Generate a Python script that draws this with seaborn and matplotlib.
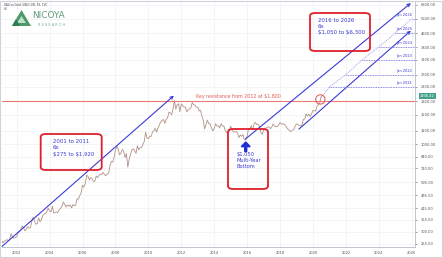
import numpy as np
import pandas as pd
import matplotlib
matplotlib.use("Agg")
import matplotlib.pyplot as plt
from matplotlib.patches import FancyBboxPatch, Rectangle, Polygon
import seaborn as sns

# ---------------- data ----------------
start_month = 2001 + 1 / 12  # Feb 2001
gold_close = [
    267, 258, 264, 267, 270, 266, 273, 293, 279, 275, 277,
    282, 296, 301, 308, 326, 318, 305, 312, 323, 316, 318, 347,
    368, 347, 334, 336, 364, 346, 354, 375, 385, 386, 398, 416,
    399, 396, 427, 388, 393, 395, 391, 408, 415, 428, 453, 438,
    422, 435, 428, 435, 417, 437, 430, 433, 473, 470, 495, 513,
    569, 556, 582, 654, 643, 613, 632, 623, 599, 604, 646, 632,
    650, 665, 662, 679, 659, 650, 666, 672, 743, 789, 783, 834,
    923, 972, 933, 865, 887, 928, 914, 833, 880, 730, 815, 870,
    928, 940, 916, 883, 980, 927, 953, 953, 996, 1040, 1180, 1090,
    1080, 1118, 1113, 1180, 1207, 1244, 1180, 1248, 1307, 1357, 1386, 1405,
    1333, 1410, 1439, 1556, 1536, 1500, 1628, 1825, 1620, 1722, 1746, 1565,
    1740, 1697, 1668, 1664, 1560, 1604, 1622, 1648, 1772, 1719, 1711, 1664,
    1663, 1578, 1598, 1472, 1393, 1234, 1312, 1395, 1326, 1323, 1250, 1202,
    1240, 1326, 1284, 1288, 1250, 1327, 1282, 1287, 1210, 1171, 1182, 1199,
    1283, 1213, 1183, 1184, 1190, 1172, 1095, 1134, 1115, 1142, 1065, 1061,
    1118, 1238, 1233, 1293, 1215, 1322, 1351, 1309, 1315, 1277, 1173, 1146,
    1211, 1249, 1249, 1268, 1268, 1242, 1269, 1322, 1280, 1271, 1275, 1303,
    1345, 1318, 1325, 1315, 1299, 1253, 1224, 1201, 1192, 1215, 1221, 1282,
    1321, 1313, 1292, 1284, 1305, 1409, 1413, 1520, 1472, 1513, 1464, 1517,
    1589, 1585, 1577, 1687, 1730, 1768, 1936,
]
last_price = 1936.42
resistance = 1800

trend_2001_x = [2001.11, 2011.55]
trend_2001_y = [246, 1950]
trend_2016_x = [2015.9, 2025.95]
trend_2016_y = [1075, 6950]
channel_low_x = [2019.15, 2025.95]
channel_low_y = [1231, 4755]
proj_years = [2020.5, 2021.0, 2022.0, 2023.0, 2024.0, 2025.0, 2026.0]
proj_levels = [1900, 2200, 2600, 3200, 3800, 4600, 5600]
proj_labels = ["Jan 2021", "Jan 2022", "Jan 2023", "Jan 2024", "Jan 2025", "Jan 2026"]

y_ticks = [255, 300, 355, 415, 495, 595, 720, 840, 1000, 1200, 1500, 1800,
           2200, 2600, 3200, 3800, 4600, 5600, 6800]
x_ticks = [2002, 2004, 2006, 2008, 2010, 2012, 2014, 2016, 2018, 2020, 2022, 2024, 2026]

# ---------------- figure ----------------
sns.set_theme(style="white")
plt.rcParams["font.family"] = ["DejaVu Sans"]
plt.rcParams["text.parse_math"] = False

W, H = 443, 258
fig = plt.figure(figsize=(W / 100, H / 100), dpi=100)
fig.patch.set_facecolor("white")

def fx(px):
    return px / W

def fy(py):
    return 1 - py / H

ax = fig.add_axes([fx(2), fy(247), fx(415) - fx(2), fy(2) - fy(247)])
ax.set_facecolor("white")

df = pd.DataFrame({
    "t": [start_month + i / 12 for i in range(len(gold_close))],
    "price": gold_close,
})

BLUE = "#3b3bd6"
GRID = "#eef0f4"

ax.set_yscale("log")
ax.set_ylim(244, 7050)
ax.set_xlim(2001.107, 2026.2)

for yt in y_ticks:
    ax.axhline(yt, color=GRID, lw=0.5, zorder=0)
for xt in x_ticks:
    ax.axvline(xt, color=GRID, lw=0.5, zorder=0)

sns.lineplot(data=df, x="t", y="price", ax=ax, color="#b09284", lw=0.6, zorder=3)

# resistance line
ax.axhline(resistance, color="#ec7a72", lw=0.8, zorder=2)
ax.text(2015.5, resistance * 1.03, "Key resistance from 2012 at $1,800",
        color="#e25a55", fontsize=3.4, ha="center", va="bottom", zorder=4,
        parse_math=False)

# trend lines with arrows
def arrow_line(xs, ys):
    ax.annotate("", xy=(xs[1], ys[1]), xytext=(xs[0], ys[0]),
                arrowprops=dict(arrowstyle="->", color=BLUE, lw=0.8,
                                shrinkA=0, shrinkB=0, mutation_scale=5),
                zorder=4)

arrow_line(trend_2001_x, trend_2001_y)
arrow_line(trend_2016_x, trend_2016_y)
arrow_line(channel_low_x, channel_low_y)

# projection
ax.plot(proj_years, proj_levels, color="#8c8ce8", lw=0.6, ls=(0, (1, 1)), zorder=4)
for yr, lvl, lab in zip(proj_years[1:], proj_levels[1:], proj_labels):
    ax.plot([yr, 2026.2], [lvl, lvl], color="#6c6ce4", lw=0.6, ls=(0, (1, 1)), zorder=4)
    ax.text(2026.05, lvl * 1.025, lab, color=BLUE, fontsize=2.6,
            ha="right", va="bottom", zorder=5)

# red circle on last price
ax.scatter([2020.45], [1850], s=45, facecolors="none", edgecolors="#e0504a",
           linewidths=0.7, zorder=6)

# axis styling
ax.yaxis.tick_right()
ax.set_yticks(y_ticks)
ax.set_yticklabels([f"{v:.2f}" for v in y_ticks])
ax.yaxis.set_minor_locator(matplotlib.ticker.NullLocator())
ax.set_xticks(x_ticks)
ax.set_xticklabels([str(v) for v in x_ticks])
ax.tick_params(axis="both", labelsize=2.6, colors="#555555", length=1.2, width=0.4, pad=1.5)
ax.tick_params(axis="y", pad=3)
ax.set_xlabel("")
ax.set_ylabel("")
for side in ["left", "top"]:
    ax.spines[side].set_visible(False)
for side in ["right", "bottom"]:
    ax.spines[side].set_color("#b8bcc6")
    ax.spines[side].set_linewidth(0.6)

# last price label
ax.text(1.012, last_price, f"{last_price:.2f}", transform=ax.get_yaxis_transform(),
        fontsize=2.6, color="white", ha="left", va="center",
        bbox=dict(boxstyle="square,pad=0.35", fc="#45a08e", ec="none"), zorder=7,
        clip_on=False)

# annotation boxes (figure pixel coordinates)
def box(x0, y0, x1, y1):
    p = FancyBboxPatch((fx(x0), fy(y1)), fx(x1) - fx(x0), fy(y0) - fy(y1),
                       boxstyle="round,pad=0,rounding_size=0.012",
                       transform=fig.transFigure, fc="none", ec="#df1f2d",
                       lw=1.3, zorder=10)
    fig.patches.append(p)

box(40.7, 134, 101.7, 170)
fig.text(fx(53), fy(139), "2001 to 2011\n6x\n$275 to $1,920", color=BLUE,
         fontsize=3.9, ha="left", va="top", linespacing=1.35, parse_math=False)

box(310, 13, 370, 51)
fig.text(fx(318), fy(18), "2016 to 2026\n6x\n$1,050 to $6,300", color=BLUE,
         fontsize=3.9, ha="left", va="top", linespacing=1.2, parse_math=False)

box(228, 129, 268, 189)
fig.text(fx(236.5), fy(152), "$1,050\nMulti-Year\nBottom", color=BLUE,
         fontsize=3.7, ha="left", va="top", linespacing=1.2, parse_math=False)
fig.patches.append(matplotlib.patches.FancyArrow(
    fx(245.7), fy(151.5), 0, fy(142) - fy(151.5), width=0.0045,
    head_width=0.02, head_length=0.018, length_includes_head=True,
    transform=fig.transFigure, color="#1f2fd6"))

# header + logo
fig.text(fx(4), fy(3), "XAU vs Gold (USD) 1W, FX, TVC", fontsize=2.0,
         color="#444444", ha="left", va="top")
fig.text(fx(4), fy(7.5), "Vol", fontsize=1.8, color="#666666", ha="left", va="top")
fig.patches.append(Polygon([[fx(12), fy(26)], [fx(31), fy(26)], [fx(21.5), fy(10)]],
                           closed=True, transform=fig.transFigure,
                           fc="#4a9a6a", ec="none"))
fig.patches.append(Polygon([[fx(17), fy(23)], [fx(26), fy(23)], [fx(21.5), fy(16)]],
                           closed=True, transform=fig.transFigure,
                           fc="#bfe0cc", ec="none"))
fig.patches.append(Polygon([[fx(12), fy(26)], [fx(20), fy(26)], [fx(16), fy(19)]],
                           closed=True, transform=fig.transFigure,
                           fc="#2f7d4f", ec="none"))
fig.text(fx(32), fy(18.5), "NICOYA", fontsize=6.4, color="#5f9c7c",
         ha="left", va="baseline")
fig.text(fx(38), fy(25.5), "R E S E A R C H", fontsize=2.5, color="#6aae84",
         ha="left", va="baseline")

# outer frame
fig.patches.append(Rectangle((0.001, 0.002), 0.997, 0.996, transform=fig.transFigure,
                             fc="none", ec="#cfd3da", lw=0.8))

fig.savefig("out.png", dpi=100, facecolor="white")
